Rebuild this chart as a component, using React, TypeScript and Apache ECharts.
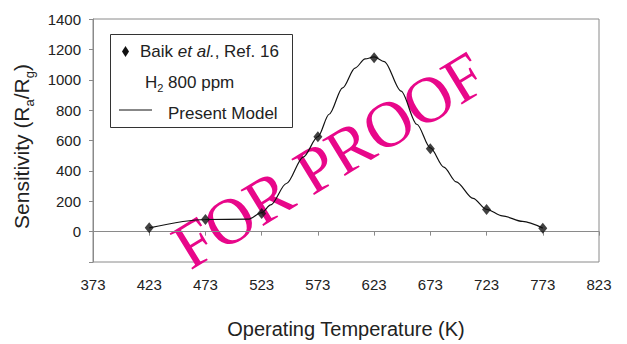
import React, { useEffect, useRef } from "react";
import * as echarts from "echarts";

const xTicks = [373, 423, 473, 523, 573, 623, 673, 723, 773, 823];
const expTemps = [423, 473, 523, 573, 623, 673, 723, 773];
const expValues = [25, 80, 120, 625, 1145, 545, 145, 22];
const modelTemps = [423, 473, 511, 523, 531, 545, 560, 573, 583, 595, 606, 615, 623, 632, 647, 661, 673, 685, 696, 711, 723, 737, 755, 773];
const modelValues = [25, 80, 82, 125, 176, 317, 491, 625, 773, 947, 1077, 1137, 1150, 1120, 925, 707, 551, 425, 328, 219, 147, 104, 67, 23];

const font = "'Liberation Sans', Arial, sans-serif";

export default function App() {
  const ref = useRef<HTMLDivElement>(null);
  useEffect(() => {
    if (!ref.current) return;
    const chart = echarts.init(ref.current, null, { renderer: "svg" });
    const gray = "#8a8a8a";
    chart.setOption({
      animation: false,
      backgroundColor: "#ffffff",
      grid: {
        left: 93, right: 28, top: 19, bottom: 78,
        show: true, borderColor: gray, borderWidth: 1, backgroundColor: "transparent",
      },
      xAxis: {
        type: "value",
        min: xTicks[0],
        max: xTicks[xTicks.length - 1],
        interval: 50,
        name: "Operating Temperature (K)",
        nameLocation: "middle",
        nameGap: 57,
        nameTextStyle: { fontFamily: font, fontSize: 20, color: "#222" },
        axisLine: { show: true, lineStyle: { color: gray } },
        axisTick: { show: true, length: 4, lineStyle: { color: gray } },
        splitLine: { show: false },
        axisLabel: { fontFamily: font, fontSize: 15, color: "#222", margin: 15 },
      },
      yAxis: {
        type: "value",
        min: -200,
        max: 1400,
        interval: 200,
        name: "{n|Sensitivity (R}{sub|a}{n|/R}{sub|g}{n|)}",
        nameLocation: "middle",
        nameGap: 57,
        nameTextStyle: {
          fontFamily: font, fontSize: 21, color: "#222",
          padding: [0, 12, 0, 0],
          rich: {
            n: { fontFamily: font, fontSize: 21, color: "#222", lineHeight: 30, verticalAlign: "middle" },
            sub: { fontFamily: font, fontSize: 13, color: "#222", lineHeight: 14, verticalAlign: "bottom" },
          },
        },
        axisLine: { show: true, lineStyle: { color: gray } },
        axisTick: { show: true, length: 4, lineStyle: { color: gray } },
        splitLine: { show: false },
        axisLabel: {
          fontFamily: font, fontSize: 15, color: "#222", margin: 12,
          formatter: (v: number) => (v < 0 ? "" : String(v)),
        },
      },
      series: [
        {
          type: "line",
          name: "Present Model",
          data: modelTemps.map((t, i) => [t, modelValues[i]]),
          smooth: 0.3,
          smoothMonotone: "x",
          showSymbol: false,
          lineStyle: { color: "#111", width: 1.2 },
          z: 3,
        },
        {
          type: "scatter",
          name: "Baik et al., Ref. 16",
          data: expTemps.map((t, i) => [t, expValues[i]]),
          symbol: "diamond",
          symbolSize: [9, 11],
          itemStyle: { color: "#111" },
          z: 4,
        },
      ],
      graphic: [
        {
          type: "text",
          x: 329, y: 160,
          rotation: (31.5 * Math.PI) / 180,
          z: 0,
          style: {
            text: "FOR PROOF",
            fontFamily: "'Liberation Serif', 'Times New Roman', serif",
            fontSize: 65,
            fill: "#e8078a",
            align: "center",
            verticalAlign: "middle",
          },
        },
        {
          type: "group",
          z: 10,
          children: [
            {
              type: "rect",
              shape: { x: 110.5, y: 34.5, width: 182, height: 93 },
              style: { fill: "#fff", stroke: "#333", lineWidth: 1 },
            },
            {
              type: "polygon",
              shape: { points: [[125.5, 46], [129, 51.5], [125.5, 57], [122, 51.5]] },
              style: { fill: "#111" },
            },
            {
              type: "text",
              x: 140, y: 51,
              style: {
                text: "{n|Baik }{i|et al.}{n|, Ref. 16}",
                verticalAlign: "middle",
                rich: {
                  n: { fontFamily: font, fontSize: 17, fill: "#222" },
                  i: { fontFamily: font, fontSize: 17, fontStyle: "italic", fill: "#222" },
                },
              },
            },
            {
              type: "text",
              x: 145, y: 82,
              style: {
                text: "{n|H}{sub|2}{n| 800 ppm}",
                verticalAlign: "middle",
                rich: {
                  n: { fontFamily: font, fontSize: 17, fill: "#222", lineHeight: 22, verticalAlign: "middle" },
                  sub: { fontFamily: font, fontSize: 11, fill: "#222", lineHeight: 12, verticalAlign: "bottom" },
                },
              },
            },
            {
              type: "line",
              shape: { x1: 119, y1: 110, x2: 152, y2: 110 },
              style: { stroke: "#111", lineWidth: 1 },
            },
            {
              type: "text",
              x: 168, y: 113,
              style: {
                text: "Present Model",
                fontFamily: font, fontSize: 17, fill: "#222",
                verticalAlign: "middle",
              },
            },
          ],
        },
      ],
    });
    return () => chart.dispose();
  }, []);
  return <div ref={ref} style={{ width: 627, height: 344, position: "absolute", left: 0, top: 0 }} />;
}
